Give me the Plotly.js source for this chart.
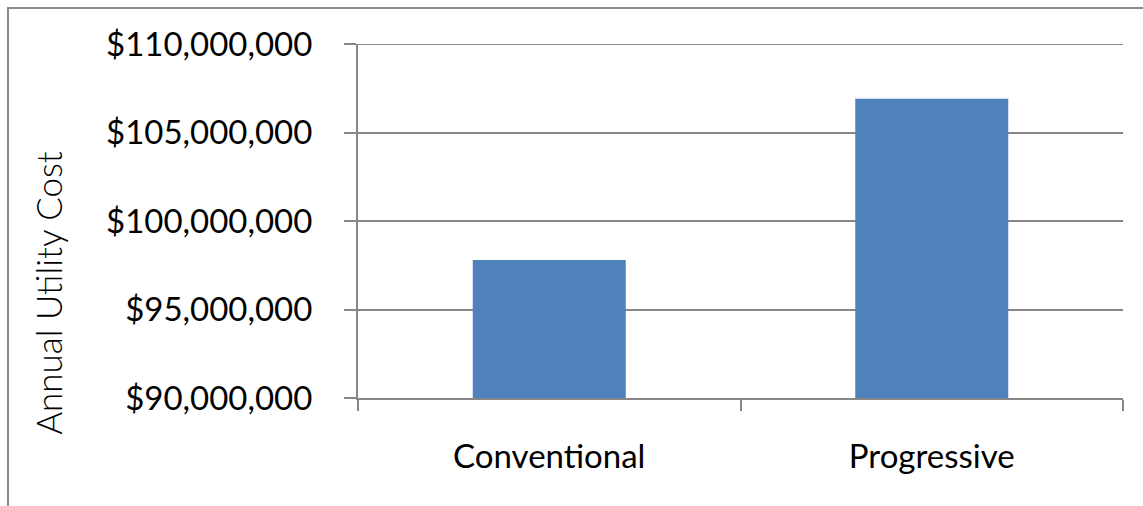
<!DOCTYPE html>
<html>
<head>
<meta charset="utf-8">
<script src="https://cdn.plot.ly/plotly-3.0.1.min.js"></script>
<style>
  html, body { margin: 0; padding: 0; background: #ffffff; overflow: hidden; }
  #chart { position: absolute; left: 0; top: 0; width: 1143px; height: 506px; }
  /* chart-area frame, open at the right and bottom edges of the window */
  #frame { position: absolute; left: 7px; top: 7px; width: 1200px; height: 600px;
           border-left: 2px solid #8a8a8a; border-top: 2px solid #8a8a8a; pointer-events: none; }
</style>
</head>
<body>
<div id="chart"></div>
<div id="frame"></div>
<script>
// Annual utility cost by design scenario
const scenarios = ["Conventional", "Progressive"];
const annualCost = [97800000, 106900000];

// y-axis ticks
const tickValues = [90000000, 95000000, 100000000, 105000000, 110000000];
const tickLabels = ["$90,000,000", "$95,000,000", "$100,000,000", "$105,000,000", "$110,000,000"];
const axisTitle = "Annual Utility Cost";

const axisGray = "#878787";
const font = "Lato, 'Open Sans', sans-serif";
const yMin = Math.min(...tickValues);
const yMax = Math.max(...tickValues);

const data = [{
  type: "bar",
  x: scenarios,
  y: annualCost,
  marker: { color: "#4f81bd" },
  hoverinfo: "x+y"
}];

const layout = {
  width: 1143,
  height: 506,
  paper_bgcolor: "#ffffff",
  plot_bgcolor: "#ffffff",
  margin: { l: 358, r: 20, t: 44, b: 108 },
  bargap: 0.6,
  showlegend: false,
  font: { family: font, color: "#000000", size: 33 },
  xaxis: {
    type: "category",
    showline: true,
    linecolor: axisGray,
    linewidth: 2,
    ticks: "outside",
    tickson: "boundaries",
    ticklen: 11,
    tickwidth: 2,
    tickcolor: axisGray,
    showgrid: false,
    tickfont: { family: font, size: 33, color: "#000000" },
    ticklabelstandoff: 28
  },
  yaxis: {
    range: [yMin, yMax],
    tickmode: "array",
    tickvals: tickValues,
    ticktext: tickLabels,
    showline: true,
    linecolor: axisGray,
    linewidth: 2,
    ticks: "outside",
    ticklen: 12,
    tickwidth: 2,
    tickcolor: axisGray,
    showgrid: true,
    gridcolor: axisGray,
    gridwidth: 2,
    zeroline: false,
    tickfont: { family: font, size: 33, color: "#000000" },
    ticklabelstandoff: 25
  },
  // top gridline at the upper end of the value range
  shapes: [{
    type: "line", xref: "paper", yref: "y",
    x0: 0, x1: 1, y0: yMax, y1: yMax,
    line: { color: axisGray, width: 2 },
    layer: "below"
  }],
  // vertical axis title, set low in the chart area
  annotations: [{
    text: axisTitle,
    xref: "paper", yref: "paper",
    x: -0.4054, y: 0.297,
    xanchor: "center", yanchor: "middle",
    textangle: -90,
    showarrow: false,
    font: { family: font, size: 35, color: "#000000", weight: 300 }
  }]
};

Plotly.newPlot("chart", data, layout, { displayModeBar: false, staticPlot: true });
</script>
</body>
</html>
